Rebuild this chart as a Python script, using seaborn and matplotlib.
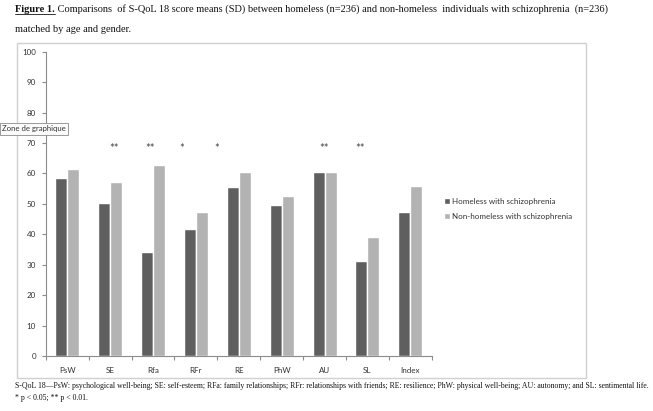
import numpy as np
import pandas as pd
import matplotlib
matplotlib.use("Agg")
import matplotlib.pyplot as plt
import seaborn as sns
from matplotlib.patches import Rectangle
from matplotlib.lines import Line2D
from matplotlib.ticker import FixedLocator, MultipleLocator

# data
categories = ["PsW", "SE", "Rfa", "RFr", "RE", "PhW", "AU", "SL", "Index"]
homeless = [58.4, 50.2, 34.1, 41.6, 55.6, 49.6, 60.6, 31.3, 47.2]
non_homeless = [61.4, 57.3, 62.8, 47.2, 60.6, 52.7, 60.4, 39.0, 56.0]
groups = ["Homeless with schizophrenia", "Non-homeless with schizophrenia"]
stars = ["", "**", "**", "*", "*", "", "**", "**", ""]
star_level = 68.2

title_bold = "Figure 1."
title_rest = (" Comparisons  of S-QoL 18 score means (SD) between homeless (n=236) "
              "and non-homeless  individuals with schizophrenia  (n=236)")
title_line2 = "matched by age and gender."
foot_line1 = ("S-QoL 18\u2014PsW: psychological well-being; SE: self-esteem; RFa: family relationships; "
              "RFr: relationships with friends; RE: resilience; PhW: physical well-being; "
              "AU: autonomy; and SL: sentimental life.")
foot_line2 = "* p < 0.05; ** p < 0.01."

df = pd.DataFrame({
    "Scale": categories * 2,
    "Score": homeless + non_homeless,
    "Group": [groups[0]] * len(categories) + [groups[1]] * len(categories),
})

W, H = 653, 411
sns.set_style("white")
plt.rcParams["font.family"] = ["Lato", "DejaVu Sans"]

fig = plt.figure(figsize=(W / 100, H / 100), dpi=100)
ax = fig.add_axes([45.7 / W, 1 - 356 / H, (431.8 - 45.7) / W, (356 - 51.7) / H])

sns.barplot(data=df, x="Scale", y="Score", hue="Group",
            palette=["#5f5f5f", "#b3b3b3"], saturation=1, width=0.56,
            ax=ax, legend=True)

axis_col = "#8c8c8c"
ax.set_xlim(-0.5, len(categories) - 0.5)
ax.set_ylim(0, 100)
ax.yaxis.set_major_locator(MultipleLocator(10))
ax.set_xlabel("")
ax.set_ylabel("")
for s in ["top", "right"]:
    ax.spines[s].set_visible(False)
for s in ["left", "bottom"]:
    ax.spines[s].set_color(axis_col)
    ax.spines[s].set_linewidth(0.8)
ax.tick_params(axis="y", length=3, width=0.8, color=axis_col, labelsize=5.8,
               labelcolor="#333333", pad=4, direction="out", left=True)
ax.tick_params(axis="x", which="major", length=0, labelsize=5.8,
               labelcolor="#333333", pad=8)
ax.xaxis.set_minor_locator(FixedLocator(np.arange(-0.5, len(categories), 1.0)))
ax.tick_params(axis="x", which="minor", length=3, width=0.8, color=axis_col,
               direction="out", bottom=True)

# significance markers (nudged in points, as placed in the original)
star_nudge = [0, 3, -2, -10, -16, 0, 0, -5, 0]
for i, (s, dx) in enumerate(zip(stars, star_nudge)):
    if s:
        ax.annotate(s, xy=(i, star_level), xytext=(dx, 0), textcoords="offset points",
                    ha="center", va="center", fontsize=8, color="#444444")

leg = ax.legend(loc="upper left", bbox_to_anchor=(444 / W, 1 - 198 / H),
                bbox_transform=fig.transFigure, frameon=False, fontsize=5.8,
                handlelength=0.75, handleheight=0.75, handletextpad=0.3,
                labelspacing=1.0, borderaxespad=0, borderpad=0)
for t in leg.get_texts():
    t.set_color("#333333")

# chart area border
fig.add_artist(Rectangle((17 / W, 1 - 378 / H), (586 - 17) / W, (378 - 43) / H,
                         transform=fig.transFigure, fill=False, ec="#d0d0d0", lw=1.0))

# tooltip left over from the spreadsheet
fig.text(2 / W, 1 - 129 / H, "Zone de graphique", fontsize=5.6, color="#333333",
         va="center", ha="left",
         bbox=dict(boxstyle="square,pad=0.3", fc="#fbfbfb", ec="#8a8a8a", lw=0.6))

# caption above and notes below
serif = ["Liberation Serif", "DejaVu Serif"]
t1 = fig.text(15 / W, 1 - 12 / H, title_bold, fontsize=7.45, family=serif,
              weight="bold", va="baseline", color="#111111")
fig.canvas.draw()
r = fig.canvas.get_renderer()
bb = t1.get_window_extent(r)
fig.add_artist(Line2D([bb.x0, bb.x1], [bb.y0 - 0.5, bb.y0 - 0.5], transform=None,
                      color="#111111", lw=0.6))
fig.text(bb.x1 / W, 1 - 12 / H, title_rest, fontsize=7.45, family=serif,
         va="baseline", color="#111111")
fig.text(15 / W, 1 - 32 / H, title_line2, fontsize=7.45, family=serif,
         va="baseline", color="#111111")
fig.text(15 / W, 1 - 388 / H, foot_line1, fontsize=5.6, family=serif,
         va="baseline", color="#111111")
fig.text(15 / W, 1 - 400 / H, foot_line2, fontsize=5.6, family=serif,
         va="baseline", color="#111111")

fig.savefig("out.png", dpi=100, facecolor="white")
